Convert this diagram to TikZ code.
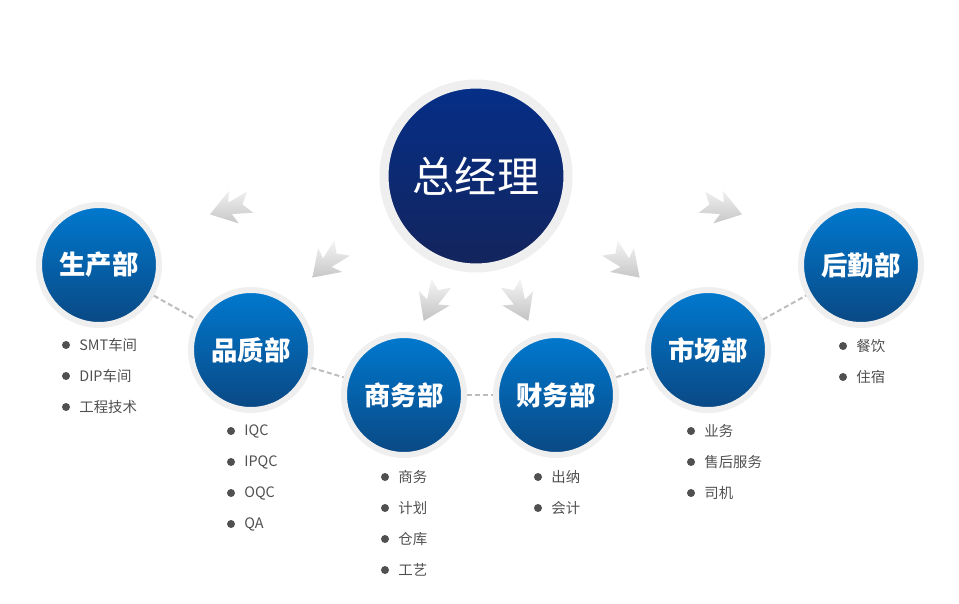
\documentclass[tikz,border=0pt]{standalone}
\usepackage{fontspec}
\newfontfamily\cjk{Noto Sans CJK SC}
\usetikzlibrary{positioning}

\definecolor{deptop}{HTML}{0079CF}
\definecolor{depbot}{HTML}{0A4883}
\definecolor{bosstop}{HTML}{052F88}
\definecolor{bossbot}{HTML}{14245C}
\definecolor{ringgray}{HTML}{EFEFEF}
\definecolor{itemgray}{HTML}{505050}
\definecolor{dashgray}{HTML}{BDBDBD}

\tikzset{
  dept/.style={circle, inner sep=0pt, minimum size=2.4cm, draw=ringgray, line width=0.12cm,
    top color=deptop, middle color=deptop!80!depbot, bottom color=depbot,
    text=white, font=\cjk\bfseries\fontsize{15}{18}\selectfont},
  boss/.style={circle, inner sep=0pt, minimum size=3.68cm, draw=ringgray, line width=0.18cm,
    top color=bosstop, bottom color=bossbot,
    text=white, font=\cjk\fontsize{24}{28}\selectfont},
  item/.style={anchor=west, inner sep=0pt, text=itemgray, font=\cjk\fontsize{8.2}{10}\selectfont},
  link/.style={dashgray, line width=0.04cm, dash pattern=on 0.1cm off 0.06cm},
  pics/fatarrow/.style={code={
    \begin{scope}
      \clip[rotate=#1] (22,0) -- (-3,17) -- (1,6) -- (-20,11) -- (-12,0) -- (-20,-11) -- (1,-6) -- (-3,-17) -- cycle;
      \shade[top color=gray!8, bottom color=gray!50] (-24,-22) rectangle (24,22);
    \end{scope}
  }}
}

\begin{document}
\begin{tikzpicture}[x=0.02cm, y=-0.02cm]
  \useasboundingbox (0,0) rectangle (959,603);

  % top
  \node[boss] (zjl) at (476,176) {总经理};

  % arrows
  \pic at (231,208) {fatarrow=197};
  \pic at (328,262) {fatarrow=225};
  \pic at (433,301) {fatarrow=245};
  \pic at (519,301) {fatarrow=295};
  \pic at (624,262) {fatarrow=315};
  \pic at (721,208) {fatarrow=343};

  % departments
  \node[dept] (sc) at (99,265) {生产部};
  \node[dept] (pz) at (251,350) {品质部};
  \node[dept] (sw) at (404,395) {商务部};
  \node[dept] (cw) at (556,395) {财务部};
  \node[dept] (sz) at (708,350) {市场部};
  \node[dept] (hq) at (861,265) {后勤部};

  \draw[link] (sc) -- (pz);
  \draw[link] (pz) -- (sw);
  \draw[link] (sw) -- (cw);
  \draw[link] (cw) -- (sz);
  \draw[link] (sz) -- (hq);

  % lists
  \foreach \t [count=\i] in {SMT车间,DIP车间,工程技术} {
    \node[item] (sc-\i) at (79,{345+31*(\i-1)}) {\t};
    \fill[itemgray] (sc-\i.west) ++(-13,0) circle (4);
  }
  \foreach \t [count=\i] in {IQC,IPQC,OQC,QA} {
    \node[item] (pz-\i) at (244,{431+31*(\i-1)}) {\t};
    \fill[itemgray] (pz-\i.west) ++(-13,0) circle (4);
  }
  \foreach \t [count=\i] in {商务,计划,仓库,工艺} {
    \node[item] (sw-\i) at (398,{477+31*(\i-1)}) {\t};
    \fill[itemgray] (sw-\i.west) ++(-13,0) circle (4);
  }
  \foreach \t [count=\i] in {出纳,会计} {
    \node[item] (cw-\i) at (551,{477+31*(\i-1)}) {\t};
    \fill[itemgray] (cw-\i.west) ++(-13,0) circle (4);
  }
  \foreach \t [count=\i] in {业务,售后服务,司机} {
    \node[item] (sz-\i) at (704,{431+31*(\i-1)}) {\t};
    \fill[itemgray] (sz-\i.west) ++(-13,0) circle (4);
  }
  \foreach \t [count=\i] in {餐饮,住宿} {
    \node[item] (hq-\i) at (856,{346+31*(\i-1)}) {\t};
    \fill[itemgray] (hq-\i.west) ++(-13,0) circle (4);
  }
\end{tikzpicture}
\end{document}
